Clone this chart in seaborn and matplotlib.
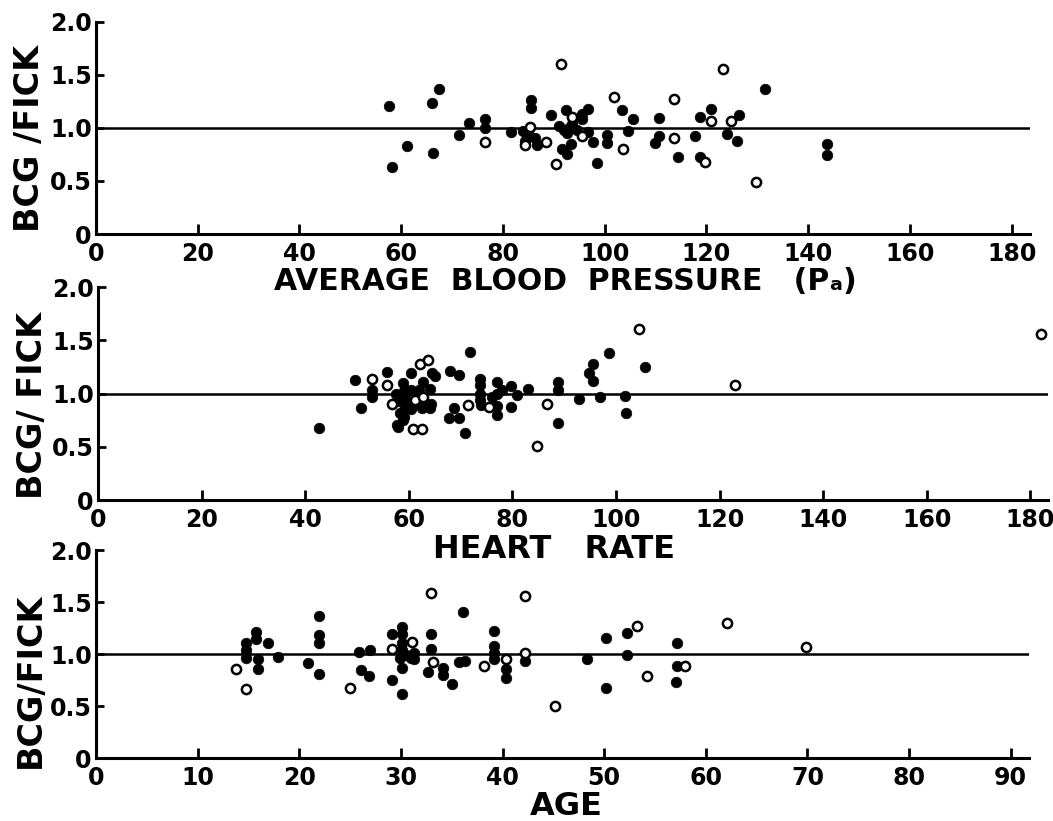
import numpy as np
import pandas as pd
import matplotlib
matplotlib.use("Agg")
import matplotlib.pyplot as plt
import seaborn as sns

# ---------------- data ----------------
# Panel 1: average blood pressure
bp_filled_x = [57.5, 58.2, 61.2, 66.1, 67.5, 66.2, 71.3, 73.4, 76.5, 76.5, 81.5, 83.9,
               85.5, 85.6, 84.4, 86.3, 86.6, 85.0, 89.5, 92.3, 91.0, 92.0, 93.0, 93.6,
               94.5, 92.5, 95.5, 96.8, 95.5, 96.7, 93.4, 92.5, 91.6, 97.6, 98.5, 103.4,
               105.6, 104.5, 100.5, 100.5, 110.7, 110.7, 109.8, 114.5, 117.8, 118.8,
               120.9, 118.8, 124.0, 126.4, 126.1, 131.5, 143.6, 143.6]
bp_filled_y = [1.21, 0.63, 0.83, 1.23, 1.37, 0.76, 0.93, 1.05, 1.08, 1.00, 0.96, 0.97,
               1.26, 1.19, 0.88, 0.90, 0.84, 0.95, 1.12, 1.17, 1.02, 0.98, 1.00, 1.04,
               0.98, 0.95, 1.13, 1.18, 1.08, 0.96, 0.85, 0.75, 0.80, 0.87, 0.67, 1.17,
               1.08, 0.97, 0.93, 0.86, 1.09, 0.92, 0.86, 0.73, 0.92, 1.10,
               1.18, 0.73, 0.94, 1.12, 0.88, 1.37, 0.85, 0.74]
bp_open_x = [76.5, 85.4, 84.4, 88.5, 91.4, 90.4, 93.6, 95.5, 101.8, 103.6, 113.7, 113.7,
             120.9, 119.8, 123.2, 124.8, 129.8]
bp_open_y = [0.87, 1.01, 0.84, 0.87, 1.60, 0.66, 1.10, 0.92, 1.29, 0.80, 1.27, 0.90,
             1.06, 0.68, 1.55, 1.06, 0.49]

# Panel 2: heart rate
hr_filled_x = [42.6, 49.7, 50.8, 52.8, 52.8, 55.7, 57.8, 58.3, 59.1, 58.9, 60.5, 62.8,
               64.4, 65.1, 57.6, 59.0, 60.5, 62.0, 64.0, 58.0, 59.5, 61.0, 62.8, 64.3,
               59.2, 60.5, 62.5, 64.0, 58.9, 58.0, 68.0, 69.7, 71.8, 67.8, 69.7, 68.8,
               70.8, 73.7, 73.7, 73.7, 73.7, 73.9, 77.0, 77.0, 77.0, 77.0, 76.0, 77.9,
               79.7, 80.8, 79.7, 83.1, 88.9, 88.9, 88.9, 92.9, 94.7, 95.6, 95.6, 98.7,
               96.9, 101.7, 101.9, 105.6]
hr_filled_y = [0.68, 1.13, 0.86, 1.03, 0.97, 1.20, 0.70, 0.82, 0.78, 1.10, 1.19, 1.11,
               1.19, 1.16, 1.00, 1.02, 1.03, 1.03, 1.04, 0.93, 0.95, 0.90, 0.95, 0.90,
               0.87, 0.85, 0.86, 0.86, 0.75, 0.69, 1.21, 1.17, 1.39, 0.77, 0.77, 0.86,
               0.63, 1.14, 1.08, 1.00, 0.94, 0.89, 1.11, 1.00, 0.88, 0.80, 0.97, 1.03,
               1.07, 0.99, 0.87, 1.04, 1.11, 1.03, 0.72, 0.95, 1.19, 1.28, 1.12, 1.38,
               0.97, 0.98, 0.82, 1.25]
hr_open_x = [52.8, 55.7, 56.7, 62.2, 63.8, 61.2, 62.8, 60.9, 62.5, 71.5, 75.5, 86.7,
             84.7, 104.5, 123.0, 182.0]
hr_open_y = [1.14, 1.08, 0.90, 1.28, 1.31, 0.94, 0.97, 0.67, 0.67, 0.89, 0.87, 0.90,
             0.51, 1.61, 1.08, 1.56]

# Panel 3: age
age_filled_x = [14.8, 14.8, 14.8, 15.7, 15.7, 15.9, 15.9, 16.9, 17.9, 20.9, 21.9, 21.9,
                21.9, 21.9, 25.9, 27.0, 26.1, 26.9, 29.1, 29.1, 30.1, 30.1, 30.1, 30.1,
                29.9, 30.5, 31.0, 31.3, 30.1, 30.1, 31.3, 33.0, 33.0, 32.7, 34.1, 34.1,
                35.0, 36.1, 35.7, 36.3, 39.2, 39.2, 39.2, 39.2, 40.3, 40.3, 42.2, 48.3,
                50.2, 50.2, 52.2, 52.2, 57.2, 57.2, 57.1]
age_filled_y = [1.11, 1.04, 0.96, 1.21, 1.14, 0.95, 0.86, 1.11, 0.97, 0.91, 1.37, 1.18,
                1.11, 0.81, 1.02, 1.04, 0.85, 0.79, 1.19, 0.75, 1.26, 1.19, 1.11, 1.04,
                0.96, 0.99, 0.96, 1.01, 0.87, 0.62, 0.95, 1.19, 1.05, 0.83, 0.87, 0.80,
                0.71, 1.40, 0.92, 0.93, 1.22, 1.08, 1.01, 0.95, 0.86, 0.77, 0.93, 0.95,
                1.15, 0.67, 1.20, 0.99, 1.11, 0.88, 0.73]
age_open_x = [13.8, 14.8, 25.0, 29.1, 31.1, 33.0, 33.2, 38.2, 40.3, 42.2, 42.2, 45.2,
              53.2, 54.2, 58.0, 62.1, 69.9]
age_open_y = [0.86, 0.66, 0.67, 1.05, 1.12, 1.59, 0.92, 0.88, 0.95, 1.56, 1.01, 0.50,
              1.27, 0.79, 0.88, 1.30, 1.07]

y_ticks = [0, 0.5, 1.0, 1.5, 2.0]
y_tick_labels = ["0", "0.5", "1.0", "1.5", "2.0"]
bp_ticks = list(range(0, 181, 20))
hr_ticks = list(range(0, 181, 20))
age_ticks = list(range(0, 91, 10))

x_titles = ["AVERAGE  BLOOD  PRESSURE   (P\u2090)", "HEART   RATE", "AGE"]
y_titles = ["BCG /FICK", "BCG/ FICK", "BCG/FICK"]

# ---------------- style ----------------
sns.set_style("ticks")
plt.rcParams['font.family'] = ['DejaVu Sans']
plt.rcParams['font.weight'] = 'bold'
for k in ["text.color", "axes.labelcolor", "xtick.color", "ytick.color", "axes.edgecolor"]:
    plt.rcParams[k] = "black"

W, H = 1053, 821
fig = plt.figure(figsize=(W / 100, H / 100), dpi=100)


def px_axes(left, right, y0, y2):
    """axes rectangle from pixel coords: left/right x, y pixel of value 0 and 2.0"""
    return fig.add_axes([left / W, 1 - y0 / H, (right - left) / W, (y0 - y2) / H])


panels = [
    dict(rect=(96, 1030, 234, 21.7), xlim=183.6, ticks=bp_ticks,
         fx=bp_filled_x, fy=bp_filled_y, ox=bp_open_x, oy=bp_open_y,
         xt=(565, 281, 21.5), yt=(30, 139)),
    dict(rect=(98, 1048, 500, 287), xlim=183.4, ticks=hr_ticks,
         fx=hr_filled_x, fy=hr_filled_y, ox=hr_open_x, oy=hr_open_y,
         xt=(554, 549, 23), yt=(33, 405)),
    dict(rect=(96, 1029, 758, 550), xlim=91.8, ticks=age_ticks,
         fx=age_filled_x, fy=age_filled_y, ox=age_open_x, oy=age_open_y,
         xt=(566, 806, 23), yt=(30, 680)),
]

for i, p in enumerate(panels):
    ax = px_axes(*p["rect"])
    ax.axhline(1.0, color="black", lw=1.8, zorder=1)
    dff = pd.DataFrame({"x": p["fx"], "y": p["fy"]})
    dfo = pd.DataFrame({"x": p["ox"], "y": p["oy"]})
    sns.scatterplot(data=dff, x="x", y="y", ax=ax, color="black", s=58,
                    edgecolor="black", linewidth=0.5, zorder=3)
    sns.scatterplot(data=dfo, x="x", y="y", ax=ax, color="white", s=44,
                    edgecolor="black", linewidth=1.8, zorder=4)
    ax.set_xlim(0, p["xlim"])
    ax.set_ylim(0, 2.0)
    ax.set_xticks(p["ticks"])
    ax.set_xticklabels([str(t) for t in p["ticks"]], fontsize=17, fontweight="bold")
    ax.set_yticks(y_ticks)
    ax.set_yticklabels(y_tick_labels, fontsize=17, fontweight="bold")
    ax.tick_params(axis="x", direction="in", length=7, width=2, pad=6)
    ax.tick_params(axis="y", direction="in", length=6, width=2, pad=3)
    for s in ["top", "right"]:
        ax.spines[s].set_visible(False)
    for s in ["left", "bottom"]:
        ax.spines[s].set_linewidth(2.2)
    ax.set_xlabel("")
    ax.set_ylabel("")
    ax.set_facecolor("white")

    xx, xy, xs = p["xt"]
    fig.text(xx / W, 1 - xy / H, x_titles[i], ha="center", va="center",
             fontsize=xs, fontweight="bold")
    yx, yy = p["yt"]
    fig.text(yx / W, 1 - yy / H, y_titles[i], rotation=90, ha="center", va="center",
             fontsize=24, fontweight="bold")

fig.savefig("out.png", dpi=100, facecolor="white")
